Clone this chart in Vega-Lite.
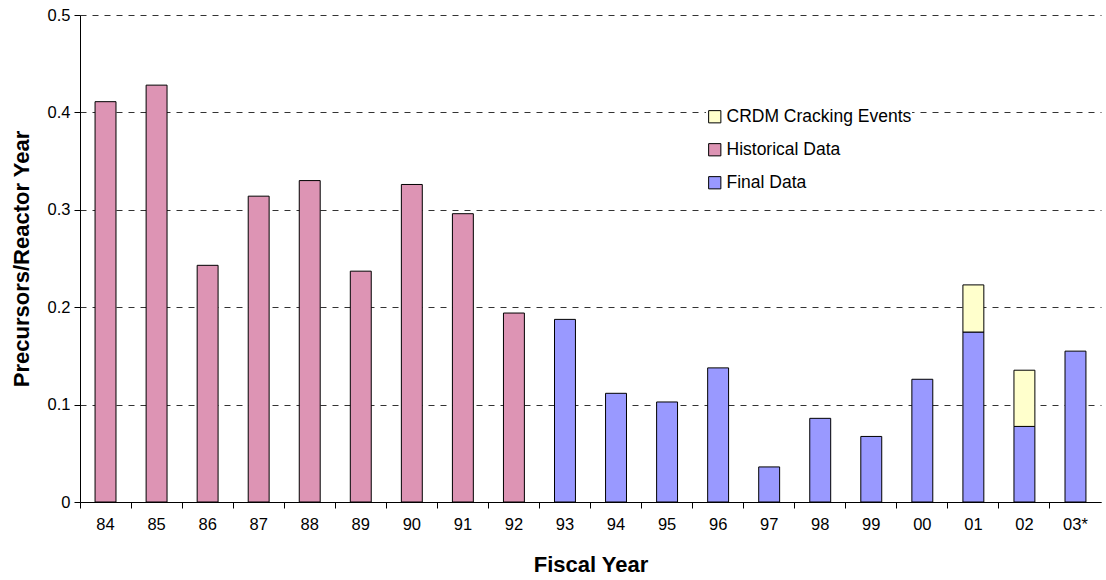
{
  "$schema": "https://vega.github.io/schema/vega-lite/v6.json",
  "width": 1021,
  "height": 487,
  "autosize": {"type": "none"},
  "padding": {"left": 80, "top": 15, "right": 5, "bottom": 78},
  "background": "white",
  "config": {
    "font": "Liberation Sans",
    "view": {"stroke": null},
    "axis": {"labelFont": "Liberation Sans", "titleFont": "Liberation Sans"}
  },
  "data": {
    "values": [
      {"year": "84", "series": "Historical Data", "value": 0.411},
      {"year": "85", "series": "Historical Data", "value": 0.428},
      {"year": "86", "series": "Historical Data", "value": 0.243},
      {"year": "87", "series": "Historical Data", "value": 0.314},
      {"year": "88", "series": "Historical Data", "value": 0.330},
      {"year": "89", "series": "Historical Data", "value": 0.237},
      {"year": "90", "series": "Historical Data", "value": 0.326},
      {"year": "91", "series": "Historical Data", "value": 0.296},
      {"year": "92", "series": "Historical Data", "value": 0.194},
      {"year": "93", "series": "Final Data", "value": 0.1875},
      {"year": "94", "series": "Final Data", "value": 0.1116},
      {"year": "95", "series": "Final Data", "value": 0.1027},
      {"year": "96", "series": "Final Data", "value": 0.1377},
      {"year": "97", "series": "Final Data", "value": 0.036},
      {"year": "98", "series": "Final Data", "value": 0.0859},
      {"year": "99", "series": "Final Data", "value": 0.0673},
      {"year": "00", "series": "Final Data", "value": 0.126},
      {"year": "01", "series": "Final Data", "value": 0.1745},
      {"year": "01", "series": "CRDM Cracking Events", "value": 0.0484},
      {"year": "02", "series": "Final Data", "value": 0.0776},
      {"year": "02", "series": "CRDM Cracking Events", "value": 0.0577},
      {"year": "03*", "series": "Final Data", "value": 0.1549}
    ]
  },
  "mark": {"type": "bar", "stroke": "black", "strokeWidth": 1, "width": {"band": 0.41}},
  "encoding": {
    "x": {
      "field": "year",
      "type": "nominal",
      "sort": null,
      "scale": {"paddingInner": 0, "paddingOuter": 0},
      "axis": {
        "title": "Fiscal Year",
        "titleFontSize": 22,
        "titleFontWeight": "bold",
        "titleColor": "black",
        "titlePadding": 22,
        "labelAngle": 0,
        "labelFontSize": 16.5,
        "labelColor": "black",
        "labelPadding": 8,
        "bandPosition": 0,
        "tickColor": "black",
        "tickSize": 6,
        "domainColor": "black",
        "grid": false
      }
    },
    "y": {
      "field": "value",
      "type": "quantitative",
      "stack": "zero",
      "scale": {"domain": [0, 0.5], "nice": false},
      "axis": {
        "title": "Precursors/Reactor Year",
        "titleFontSize": 22,
        "titleFontWeight": "bold",
        "titleColor": "black",
        "titlePadding": 14,
        "values": [0, 0.1, 0.2, 0.3, 0.4, 0.5],
        "labelExpr": "datum.value == 0 ? '0' : format(datum.value, '.1f')",
        "labelFontSize": 16.5,
        "labelColor": "black",
        "labelPadding": 4,
        "tickColor": "black",
        "tickSize": 6,
        "domainColor": "black",
        "grid": true,
        "gridColor": "#333333",
        "gridDash": [6, 6],
        "gridWidth": 1
      }
    },
    "color": {
      "field": "series",
      "type": "nominal",
      "scale": {
        "domain": ["CRDM Cracking Events", "Historical Data", "Final Data"],
        "range": ["#ffffcc", "#dd94b4", "#9999ff"]
      },
      "legend": {
        "title": null,
        "orient": "none",
        "legendX": 626,
        "legendY": 93,
        "symbolType": "square",
        "symbolSize": 150,
        "symbolStrokeColor": "black",
        "symbolStrokeWidth": 1,
        "symbolOpacity": 1,
        "labelFontSize": 17.5,
        "labelColor": "black",
        "labelOffset": 3,
        "labelLimit": 400,
        "rowPadding": 14,
        "fillColor": "white"
      }
    },
    "order": {"field": "series", "sort": "descending"}
  }
}
